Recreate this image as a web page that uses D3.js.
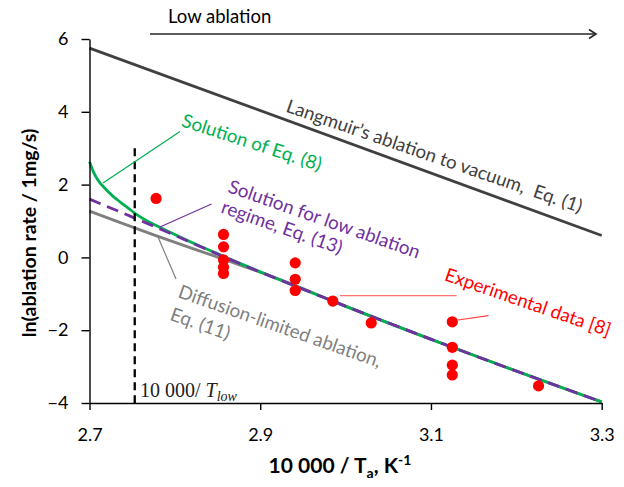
<!DOCTYPE html>
<html>
<head>
<meta charset="utf-8">
<script src="https://cdn.jsdelivr.net/npm/d3@7"></script>
<style>
  html, body { margin: 0; padding: 0; background: #fff; }
  svg { display: block; font-family: Lato, "Open Sans", sans-serif; }
  .pre { white-space: pre; }
</style>
</head>
<body>
<svg id="chart" width="624" height="487"></svg>
<script>
// ---------- data ----------
const xTicks = [2.7, 2.9, 3.1, 3.3];
const yTicks = [-4, -2, 0, 2, 4, 6];

const langmuirX = [2.7, 3.3];
const langmuirY = [5.75, 0.6];

const eq8X = [2.7, 2.705, 2.71, 2.718, 2.727, 2.736, 2.745, 2.755, 2.77, 2.79, 2.82, 2.851, 2.985, 3.125, 3.3];
const eq8Y = [2.63, 2.33, 2.12, 1.90, 1.69, 1.52, 1.36, 1.18, 0.97, 0.74, 0.41, 0.09, -1.2, -2.47, -3.97];

const eq13X = [2.7, 2.753, 2.781, 2.851, 2.985, 3.125, 3.3];
const eq13Y = [1.6, 1.08, 0.8, 0.08, -1.2, -2.47, -3.97];

const eq11X = [2.7, 2.781, 2.857, 2.94, 2.985, 3.125, 3.3];
const eq11Y = [1.27, 0.57, -0.05, -0.76, -1.2, -2.47, -3.97];

const expX = [2.778, 2.857, 2.857, 2.857, 2.857, 2.857, 2.941, 2.941, 2.941, 2.985, 3.030, 3.125, 3.125, 3.125, 3.125, 3.226];
const expY = [1.62, 0.63, 0.29, -0.07, -0.27, -0.44, -0.15, -0.6, -0.91, -1.2, -1.8, -1.77, -2.47, -2.96, -3.23, -3.53];

const tLowX = 2.753;
const tLowTop = 3.0;

// ---------- chart ----------
const svg = d3.select("#chart");
const x = d3.scaleLinear().domain([2.7, 3.3]).range([89.5, 601.7]);
const y = d3.scaleLinear().domain([-4, 6]).range([403, 39]);

const pts = (xs, ys) => xs.map((v, i) => [v, ys[i]]);
const lineGen = d3.line().x(d => x(d[0])).y(d => y(d[1]));
const curveGen = d3.line().x(d => x(d[0])).y(d => y(d[1])).curve(d3.curveMonotoneX);

// series lines
svg.append("path").attr("d", curveGen(pts(eq11X, eq11Y)))
  .attr("fill", "none").attr("stroke", "#7f7f7f").attr("stroke-width", 2.8);
svg.append("path").attr("d", curveGen(pts(eq8X, eq8Y)))
  .attr("fill", "none").attr("stroke", "#00b050").attr("stroke-width", 2.8);
svg.append("path").attr("d", curveGen(pts(eq13X, eq13Y)))
  .attr("fill", "none").attr("stroke", "#7030a0").attr("stroke-width", 2.8)
  .attr("stroke-dasharray", "12,7");
svg.append("path").attr("d", lineGen(pts(langmuirX, langmuirY)))
  .attr("fill", "none").attr("stroke", "#404040").attr("stroke-width", 2.8);

// T_low dashed line
svg.append("line")
  .attr("x1", x(tLowX)).attr("x2", x(tLowX))
  .attr("y1", y(tLowTop)).attr("y2", y(-4))
  .attr("stroke", "#000").attr("stroke-width", 2.3).attr("stroke-dasharray", "8,5");

// experimental points
svg.append("g").selectAll("circle").data(pts(expX, expY)).join("circle")
  .attr("cx", d => x(d[0])).attr("cy", d => y(d[1])).attr("r", 5.6)
  .attr("fill", "#ff0000");

// axes
const yAxis = d3.axisLeft(y).tickValues(yTicks).tickSize(8).tickSizeOuter(0).tickPadding(13)
  .tickFormat(d3.format("d"));
const gy = svg.append("g").attr("transform", `translate(${x(2.7)},0)`).call(yAxis);
const xAxis = d3.axisBottom(x).tickValues(xTicks).tickSize(7).tickSizeOuter(0).tickPadding(18)
  .tickFormat(d3.format(".1f"));
const gx = svg.append("g").attr("transform", `translate(0,${y(-4)})`).call(xAxis);
[gx, gy].forEach(g => {
  g.select(".domain").attr("stroke", "#000").attr("stroke-width", 1.4);
  g.selectAll(".tick line").attr("stroke", "#000").attr("stroke-width", 1.4);
  g.selectAll(".tick text").attr("font-family", "Lato, sans-serif").attr("font-size", 18).attr("fill", "#000");
});

// axis titles
svg.append("text")
  .attr("transform", "translate(36,233) rotate(-90)")
  .attr("text-anchor", "middle").attr("font-weight", "bold").attr("font-size", 19.5)
  .text("ln(ablation rate / 1mg/s)");

const xt = svg.append("text").attr("x", 340).attr("y", 473)
  .attr("text-anchor", "middle").attr("font-weight", "bold").attr("font-size", 21);
xt.append("tspan").text("10 000 / T");
xt.append("tspan").attr("font-size", 14).attr("dy", 5).text("a");
xt.append("tspan").attr("dy", -5).text(", K");
xt.append("tspan").attr("font-size", 14).attr("dy", -8).text("-1");

// Low ablation arrow
svg.append("text").attr("x", 168).attr("y", 23).attr("font-size", 18.5).attr("fill", "#000").text("Low ablation");
svg.append("line").attr("x1", 150).attr("x2", 596).attr("y1", 34).attr("y2", 34)
  .attr("stroke", "#262626").attr("stroke-width", 1.6);
svg.append("path").attr("d", "M589,29.5 L596,34 L589,38.5")
  .attr("fill", "none").attr("stroke", "#262626").attr("stroke-width", 1.6);

// leader lines
const leaders = [
  { x1: 103, y1: 183, x2: 180, y2: 131.5, c: "#00b050" },
  { x1: 160, y1: 227, x2: 211.5, y2: 204, c: "#7030a0" },
  { x1: 158, y1: 237, x2: 176, y2: 279, c: "#7f7f7f" },
  { x1: 340, y1: 295.7, x2: 456.7, y2: 295.7, c: "#ff7070" },
  { x1: 458, y1: 320, x2: 488.5, y2: 315.7, c: "#ff4040" }
];
svg.append("g").selectAll("line").data(leaders).join("line")
  .attr("x1", d => d.x1).attr("y1", d => d.y1).attr("x2", d => d.x2).attr("y2", d => d.y2)
  .attr("stroke", d => d.c).attr("stroke-width", 1.2);

// rotated annotations
function rotText(px, py, angle, lines, color, size, lh) {
  const t = svg.append("text").attr("class", "pre")
    .attr("transform", `translate(${px},${py}) rotate(${angle})`)
    .attr("font-size", size).attr("fill", color);
  lines.forEach((s, i) => {
    t.append("tspan").attr("x", 0).attr("y", i * lh).text(s);
  });
}
rotText(285, 111.5, 19, ["Langmuir\u2019s ablation to vacuum,  Eq. (1)"], "#404040", 18.6, 21);
rotText(180.5, 126, 18, ["Solution of Eq. (8)"], "#00b050", 18.8, 21);
rotText(227, 192, 19.3, ["Solution for low ablation", "regime, Eq. (13)"], "#7030a0", 18.8, 21.5);
rotText(177, 297, 19.3, ["Diffusion-limited ablation,", "Eq. (11)"], "#7f7f7f", 18.8, 24);
rotText(443.5, 280, 19, ["Experimental data [8]"], "#ff0000", 18.6, 21);

// T_low label
const tl = svg.append("text").attr("x", 140).attr("y", 397)
  .attr("font-family", "'Liberation Serif', serif").attr("font-size", 20).attr("fill", "#222");
tl.append("tspan").text("10 000/ ");
tl.append("tspan").attr("font-style", "italic").text("T");
tl.append("tspan").attr("font-style", "italic").attr("font-size", 14).attr("dy", 4).text("low");
</script>
</body>
</html>
